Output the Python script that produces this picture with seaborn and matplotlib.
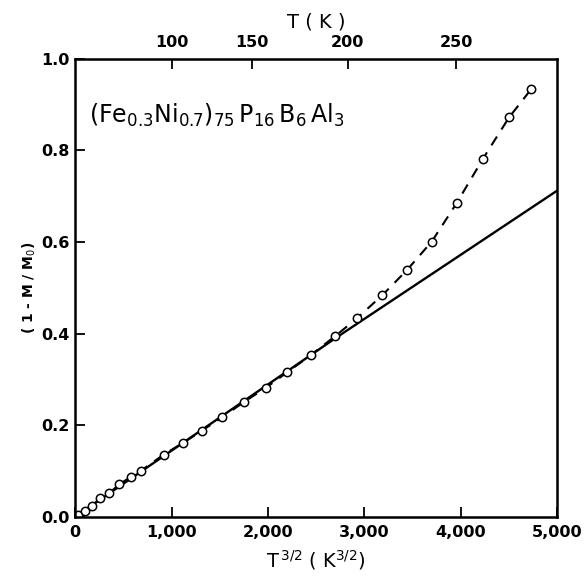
import matplotlib
matplotlib.use("Agg")
import matplotlib.pyplot as plt
import numpy as np
import seaborn as sns
import pandas as pd

# measured points: T^{3/2} vs (1 - M/M0)
t32 = [30, 104, 180, 259, 353, 456, 578, 685, 920, 1117, 1314, 1525, 1753,
       1981, 2203, 2445, 2700, 2922, 3188, 3444, 3700, 3959, 4232, 4502, 4733]
mag = [0.005, 0.012, 0.024, 0.042, 0.051, 0.071, 0.087, 0.101, 0.136, 0.161,
       0.188, 0.217, 0.251, 0.282, 0.316, 0.353, 0.395, 0.433, 0.484, 0.539,
       0.601, 0.685, 0.782, 0.872, 0.934]

# straight T^{3/2} law (solid line)
fit_x = [0, 2700, 5000]
fit_y = [0.0, 0.390, 0.712]

x_ticks = [0, 1000, 2000, 3000, 4000, 5000]
x_labels = ["0", "1,000", "2,000", "3,000", "4,000", "5,000"]
y_ticks = [0.0, 0.2, 0.4, 0.6, 0.8, 1.0]
y_labels = ["0.0", "0.2", "0.4", "0.6", "0.8", "1.0"]
top_ticks = [100, 150, 200, 250]

sns.set_style("ticks")
plt.rcParams["font.family"] = ["DejaVu Sans"]
plt.rcParams["mathtext.fontset"] = "dejavusans"
plt.rcParams["text.color"] = "black"
plt.rcParams["axes.labelcolor"] = "black"
plt.rcParams["xtick.color"] = "black"
plt.rcParams["ytick.color"] = "black"
plt.rcParams["axes.edgecolor"] = "black"

fig = plt.figure(figsize=(5.87, 5.82), dpi=100)
ax = fig.add_axes([0.128, 0.112, 0.821, 0.787])

df = pd.DataFrame({"x": t32, "y": mag})
fit = pd.DataFrame({"x": fit_x, "y": fit_y})

sns.lineplot(data=fit, x="x", y="y", ax=ax, color="black", lw=1.7)
sns.lineplot(data=df, x="x", y="y", ax=ax, color="black", lw=1.5,
             linestyle=(0, (5, 4)), marker="o", markersize=6,
             markerfacecolor="white", markeredgecolor="black",
             markeredgewidth=1.1)

ax.set_xlim(0, 5000)
ax.set_ylim(0, 1.0)
ax.set_xticks(x_ticks)
ax.set_xticklabels(x_labels)
ax.set_yticks(y_ticks)
ax.set_yticklabels(y_labels)
ax.tick_params(direction="in", length=7, width=1.3, labelsize=11.5)
ax.tick_params(axis="x", pad=6)
ax.tick_params(axis="y", pad=4)
for lab in ax.get_xticklabels() + ax.get_yticklabels():
    lab.set_fontweight("bold")
for s in ax.spines.values():
    s.set_visible(True)
    s.set_linewidth(1.8)

ax.set_xlabel(r"T$^{\,3/2}$ ( K$^{3/2}$)", fontsize=14, labelpad=6)
ax.set_ylabel(r"( 1 - M / M$_0$)", fontsize=10, fontweight="bold", labelpad=2)

top = ax.secondary_xaxis("top", functions=(lambda x: np.cbrt(np.maximum(x, 0) ** 2),
                                            lambda t: np.maximum(t, 0) ** 1.5))
top.set_xticks(top_ticks)
top.tick_params(direction="in", length=7, width=1.3, labelsize=11.5, pad=6)
for lab in top.get_xticklabels():
    lab.set_fontweight("bold")
top.set_xlabel("T ( K )", fontsize=14, labelpad=6)

ax.text(140, 0.86, r"$(\mathrm{Fe}_{0.3}\mathrm{Ni}_{0.7})_{75}\,\mathrm{P}_{16}\,\mathrm{B}_{6}\,\mathrm{Al}_{3}$",
        fontsize=17)

fig.savefig("out.png", dpi=100)
